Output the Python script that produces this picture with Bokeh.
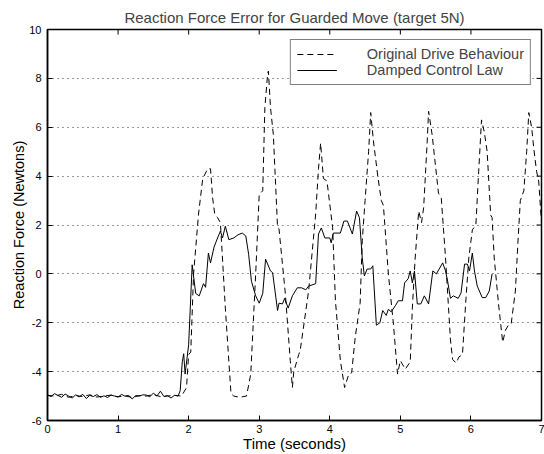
import math
from bokeh.plotting import figure
from bokeh.models import (FixedTicker, Range1d, Legend, LegendItem,
                          CustomJSTickFormatter)
from bokeh.embed import file_html
from bokeh.resources import INLINE

# ---------------- data ----------------
orig_t = [0.0, 0.1, 0.2, 0.3, 0.4, 0.5, 0.6, 0.7, 0.8, 0.9, 1.0, 1.1, 1.2, 1.3, 1.4,
          1.5, 1.6, 1.7, 1.8, 1.9, 1.94, 1.97, 2.0, 2.03, 2.07, 2.14, 2.2, 2.27, 2.31,
          2.34, 2.37, 2.41, 2.45, 2.52, 2.6, 2.64, 2.72, 2.82, 2.88, 2.95, 3.0, 3.05,
          3.08, 3.12, 3.13, 3.16, 3.2, 3.26, 3.28, 3.37, 3.44, 3.47, 3.49, 3.56, 3.58,
          3.7, 3.8, 3.84, 3.87, 3.91, 3.96, 4.04, 4.08, 4.15, 4.21, 4.27, 4.31, 4.36,
          4.43, 4.46, 4.5, 4.55, 4.58, 4.62, 4.68, 4.73, 4.76, 4.83, 4.9, 4.96, 5.0,
          5.07, 5.14, 5.17, 5.21, 5.26, 5.3, 5.33, 5.38, 5.4, 5.45, 5.54, 5.58, 5.64,
          5.71, 5.74, 5.79, 5.83, 5.88, 5.93, 5.97, 6.02, 6.07, 6.11, 6.15, 6.19, 6.23,
          6.28, 6.3, 6.33, 6.39, 6.45, 6.49, 6.53, 6.57, 6.63, 6.67, 6.7, 6.75, 6.79,
          6.82, 6.86, 6.89, 6.93, 6.96, 7.0]
orig_v = [-4.97, -5.0, -4.93, -5.05, -4.98, -5.02, -4.95, -5.04, -5.0, -4.96, -5.03,
          -4.99, -5.06, -4.98, -5.0, -4.94, -5.02, -5.0, -4.97, -5.0, -4.8, -4.65, -3.3,
          -3.2, 0.0, 2.45, 3.9, 4.3, 4.3, 3.1, 2.45, 2.3, 2.1, -1.4, -4.9, -5.0, -5.05,
          -5.0, -4.1, 0.0, 3.25, 3.4, 6.8, 8.2, 8.3, 6.8, 5.7, 1.9, 1.85, -0.8, -3.55,
          -4.65, -4.0, -3.3, -3.15, -0.7, 2.45, 4.3, 5.35, 3.9, 3.8, 1.9, -1.1, -3.55,
          -4.65, -4.1, -4.05, -2.6, -1.2, 1.35, 3.0, 5.0, 6.6, 5.4, 4.0, 3.0, 2.8, 0.0,
          -2.0, -4.1, -3.55, -3.9, -3.6, -1.4, 0.65, 2.57, 2.1, 2.7, 5.4, 6.65, 5.7, 3.3,
          3.1, 0.65, -2.7, -3.5, -3.65, -3.4, -3.3, -1.0, 0.65, 1.8, 2.0, 4.2, 6.3, 5.8,
          5.0, 2.4, 2.3, 0.65, -1.2, -2.8, -2.3, -2.1, -2.05, -0.7, 1.5, 3.0, 3.4, 5.0,
          6.6, 6.0, 5.15, 4.2, 3.8, 2.1]

damp_t = [0.0, 0.05, 0.1, 0.15, 0.2, 0.25, 0.3, 0.35, 0.4, 0.45, 0.5, 0.55, 0.6, 0.65,
          0.7, 0.75, 0.8, 0.85, 0.9, 0.95, 1.0, 1.05, 1.1, 1.15, 1.2, 1.25, 1.3, 1.35,
          1.4, 1.45, 1.5, 1.55, 1.6, 1.65, 1.7, 1.75, 1.8, 1.85, 1.88, 1.91, 1.93, 1.95,
          2.0, 2.05, 2.1, 2.15, 2.21, 2.24, 2.28, 2.31, 2.36, 2.41, 2.45, 2.48, 2.52,
          2.57, 2.64, 2.7, 2.76, 2.81, 2.85, 2.89, 2.95, 3.0, 3.05, 3.09, 3.16, 3.19,
          3.26, 3.28, 3.33, 3.36, 3.41, 3.47, 3.54, 3.6, 3.66, 3.7, 3.8, 3.84, 3.88,
          3.93, 4.0, 4.02, 4.05, 4.15, 4.2, 4.25, 4.32, 4.38, 4.42, 4.46, 4.49, 4.53,
          4.58, 4.61, 4.66, 4.71, 4.75, 4.8, 4.83, 4.87, 4.93, 4.97, 5.03, 5.06, 5.11,
          5.14, 5.17, 5.2, 5.24, 5.29, 5.34, 5.4, 5.46, 5.51, 5.6, 5.64, 5.67, 5.71,
          5.75, 5.82, 5.86, 5.91, 5.95, 5.98, 6.02, 6.05, 6.09, 6.16, 6.21, 6.26, 6.3]
damp_v = [-4.95, -5.02, -4.9, -4.98, -5.05, -4.92, -5.0, -5.08, -4.95, -5.03, -4.93,
          -5.1, -4.97, -5.02, -4.94, -5.05, -4.99, -5.06, -4.96, -5.0, -5.04, -4.93,
          -5.01, -4.97, -5.12, -4.98, -5.0, -4.95, -4.96, -5.03, -4.88, -5.0, -4.8,
          -5.02, -4.98, -5.08, -4.97, -5.0, -4.78, -3.6, -3.27, -4.1, -2.9, 0.37, -0.8,
          -0.9, -0.4, -0.55, 0.85, 0.45, 1.1, 1.47, 1.75, 1.47, 1.95, 1.4, 1.47, 1.6,
          1.67, 1.55, 0.8, -0.3, -0.9, -1.2, -0.8, 0.6, 0.12, 0.05, -1.5, -1.2, -1.23,
          -1.0, -1.4, -0.9, -0.57, -0.57, -0.65, -0.5, -0.4, 1.63, 1.88, 1.47, 1.47,
          1.27, 1.67, 1.67, 2.16, 2.16, 1.63, 2.57, 2.3, 0.65, -0.08, 0.2, 0.2, 0.33,
          -2.1, -2.0, -1.5, -1.7, -1.45, -1.55, -1.3, -1.1, -1.1, -0.37, -0.2, 0.12,
          -0.37, 0.12, -1.23, -1.23, -0.9, -1.23, 0.12, 0.0, 0.45, 0.12, -0.3, -1.0,
          -0.9, -1.0, -0.78, 0.4, 0.4, 0.12, 0.85, 0.12, -0.5, -0.97, -0.97, -0.7, 0.0]

x_ticks = [0, 1, 2, 3, 4, 5, 6, 7]
y_ticks = [-6, -4, -2, 0, 2, 4, 6, 8, 10]
x_min, x_max = 0, 7
y_min, y_max = -6, 10

title_text = "Reaction Force Error for Guarded Move (target 5N)"
x_label = "Time (seconds)"
y_label = "Reaction Force (Newtons)"
series_labels = ["Original Drive Behaviour", "Damped Control Law"]

# ---------------- figure ----------------
FONT = "Liberation Sans"

p = figure(width=544, height=454, output_backend="svg", toolbar_location=None,
           x_range=Range1d(x_min, x_max), y_range=Range1d(y_min, y_max),
           min_border_left=47, min_border_right=3, min_border_top=29,
           min_border_bottom=33)

p.title.text = title_text
p.title.text_font = FONT
p.title.text_font_size = "15px"
p.title.text_font_style = "normal"
p.title.align = "center"
p.title.standoff = 8
p.title.offset = 0

fmt = CustomJSTickFormatter(code="return tick.toString();")

def style_axis(ax):
    ax.major_tick_in = 5
    ax.major_tick_out = 0
    ax.minor_tick_line_color = None
    ax.axis_line_width = 1.5
    ax.axis_line_color = "black"
    ax.major_tick_line_color = "black"
    ax.major_label_text_font = FONT
    ax.major_label_text_font_size = "11px"
    ax.major_label_text_color = "black"
    ax.axis_label_text_font = FONT
    ax.axis_label_text_font_style = "normal"
    ax.axis_label_text_font_size = "15px"
    ax.axis_label_text_color = "black"

xa = p.xaxis[0]
xa.ticker = FixedTicker(ticks=x_ticks)
xa.formatter = fmt
xa.axis_label = x_label
style_axis(xa)
xa.major_label_standoff = 4
xa.axis_label_standoff = -1

ya = p.yaxis[0]
ya.ticker = FixedTicker(ticks=y_ticks)
ya.formatter = fmt
ya.axis_label = y_label
style_axis(ya)
ya.major_label_standoff = 6
ya.axis_label_standoff = -1
ya.axis_label_text_font_size = "14.5px"

p.outline_line_color = "black"
p.outline_line_width = 1.5

# inward tick marks on the top and right edges of the box (MATLAB style)
p.ray(x=x_ticks, y=[y_max] * len(x_ticks), length=5, length_units="screen",
      angle=-math.pi / 2, line_color="black", line_width=1)
p.ray(x=[x_max] * len(y_ticks), y=y_ticks, length=5, length_units="screen",
      angle=math.pi, line_color="black", line_width=1)

p.xgrid.visible = False
p.ygrid.ticker = FixedTicker(ticks=y_ticks)
p.ygrid.grid_line_color = "black"
p.ygrid.grid_line_dash = "1 4"
p.ygrid.grid_line_width = 1
p.ygrid.grid_line_alpha = 0.8

r_orig = p.line(orig_t, orig_v, line_color="black", line_width=1, line_dash="6 4")
r_damp = p.line(damp_t, damp_v, line_color="black", line_width=1)

legend = Legend(items=[LegendItem(label=series_labels[0], renderers=[r_orig]),
                       LegendItem(label=series_labels[1], renderers=[r_damp])],
                location="top_right")
legend.margin = 10
legend.padding = 6
legend.spacing = -5
legend.label_standoff = 30
legend.glyph_width = 40
legend.glyph_height = 14
legend.label_height = 14
legend.label_text_font = FONT
legend.label_text_font_size = "14.5px"
legend.label_text_line_height = 1.0
legend.border_line_color = "black"
legend.border_line_width = 1.5
legend.background_fill_color = "white"
legend.background_fill_alpha = 1.0
p.add_layout(legend)

p.background_fill_color = "white"
p.border_fill_color = "white"

open("out.html", "w").write(file_html(p, INLINE))
